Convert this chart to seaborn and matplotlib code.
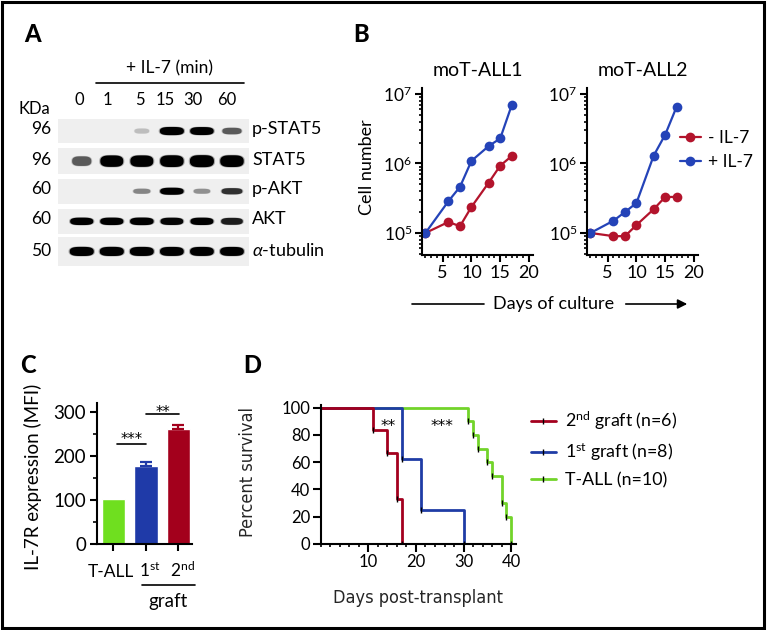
import os
import numpy as np
import pandas as pd
import matplotlib
matplotlib.use('Agg')
import matplotlib.pyplot as plt
import seaborn as sns
from matplotlib.lines import Line2D
from matplotlib.patches import Rectangle, FancyArrowPatch
from matplotlib.path import Path
from matplotlib.transforms import blended_transform_factory
from matplotlib.ticker import MultipleLocator, LogLocator, NullFormatter, FixedLocator
from matplotlib import font_manager as fm
from matplotlib.font_manager import FontProperties

# ---------------- data ----------------
# Panel A: western blot (relative band intensity, 0..1)
lanes = ['0', '1', '5', '15', '30', '60']
blot_rows = ['p-STAT5', 'STAT5', 'p-AKT', 'AKT', r'$\alpha$-tubulin']
kda = ['96', '96', '60', '60', '50']
pstat5 = [0.0, 0.0, 0.12, 1.0, 0.95, 0.55]
stat5 = [0.55, 0.9, 0.9, 0.95, 1.0, 0.95]
pakt = [0.0, 0.0, 0.35, 0.95, 0.3, 0.7]
akt = [0.92, 0.92, 0.95, 0.88, 0.9, 0.78]
tubulin = [1.0, 1.0, 0.98, 0.97, 0.97, 0.97]

# Panel B: cell number vs days of culture
days = [2, 6, 8, 10, 13, 15, 17]
all1_minus = [1.0e5, 1.44e5, 1.25e5, 2.37e5, 5.3e5, 9.3e5, 1.28e6]
all1_plus = [1.0e5, 2.87e5, 4.6e5, 1.09e6, 1.78e6, 2.29e6, 6.9e6]
all2_minus = [1.0e5, 0.9e5, 0.9e5, 1.3e5, 2.2e5, 3.3e5, 3.3e5]
all2_plus = [1.0e5, 1.5e5, 2.0e5, 2.7e5, 1.3e6, 2.6e6, 6.6e6]
conditions = ['- IL-7', '+ IL-7']

# Panel C: IL-7R expression
c_groups = ['T-ALL', '1st', '2nd']
c_labels = ['T-ALL', r'1$^{\rm st}$', r'2$^{\rm nd}$']
c_mfi = [103, 178, 262]
c_sem = [0, 9, 9]

# Panel D: survival
red_days = [0, 11, 14, 16, 17]
red_surv = [100, 83.3, 66.7, 33.3, 0]
blue_days = [0, 17, 21, 30]
blue_surv = [100, 62.5, 25, 0]
green_days = [0, 31, 32, 33, 35, 36, 38, 39, 40]
green_surv = [100, 90, 80, 70, 60, 50, 30, 20, 0]
d_labels = [r'2$^{\rm nd}$ graft (n=6)', r'1$^{\rm st}$ graft (n=8)', 'T-ALL (n=10)']

# ---------------- style ----------------
sns.set_style('ticks')
plt.rcParams['font.family'] = ['Lato', 'DejaVu Sans']
plt.rcParams['mathtext.fontset'] = 'custom'
plt.rcParams['mathtext.rm'] = 'Lato'
plt.rcParams['mathtext.it'] = 'Lato:italic'
plt.rcParams['mathtext.bf'] = 'Lato:bold'
plt.rcParams['axes.linewidth'] = 1.5
plt.rcParams['xtick.major.width'] = 1.5
plt.rcParams['ytick.major.width'] = 1.5
plt.rcParams['xtick.minor.width'] = 1.2
plt.rcParams['ytick.minor.width'] = 1.2
plt.rcParams['xtick.color'] = 'black'
plt.rcParams['ytick.color'] = 'black'
plt.rcParams['axes.edgecolor'] = 'black'
plt.rcParams['text.color'] = 'black'

# condensed font for panel D axis labels
cond_fp = None
for f in fm.fontManager.ttflist:
    b = os.path.basename(f.fname).lower()
    if b in ('liberationsansnarrow-regular.ttf', 'dejavusanscondensed.ttf'):
        cond_fp = FontProperties(fname=f.fname)
        break

W, H = 767, 630
fig = plt.figure(figsize=(W / 100, H / 100), dpi=100)


def rect(l, t, r, b):
    return [l / W, 1 - b / H, (r - l) / W, (b - t) / H]


def fx(x):
    return x / W


def fy(y):
    return 1 - y / H


RED_B, BLUE_B = '#b3142c', '#2443b8'
C_COLORS = ['#6fdf1f', '#1f3aa8', '#a3001c']
D_RED, D_BLUE, D_GREEN = '#a3001e', '#1f3ca6', '#72d42a'
STAR_FONT = ['DejaVu Sans']

# ---------------- Panel A ----------------
axA = fig.add_axes(rect(58, 116, 250, 268))
blot = [pstat5, stat5, pakt, akt, tubulin]
band_h = [0.34, 0.50, 0.30, 0.32, 0.38]
axA.barh(range(5), [6.35] * 5, left=-0.78, height=[0.82, 0.85, 0.82, 0.82, 0.95],
         color='#efefef', edgecolor='none')
cmap = plt.get_cmap('Greys')
t = np.linspace(0, 2 * np.pi, 80)
for r, vals in enumerate(blot):
    sx = np.sign(np.cos(t)) * np.abs(np.cos(t)) ** 0.6
    sy = np.sign(np.sin(t)) * np.abs(np.sin(t)) ** 0.8 * band_h[r]
    mk = Path(np.column_stack([sx, sy]), closed=True)
    xs = [i for i, v in enumerate(vals) if v > 0]
    vs = np.array([v for v in vals if v > 0])
    sizes = 300 * (0.55 + 0.45 * vs) ** 2
    axA.scatter(xs, [r] * len(xs), s=sizes * 1.2, marker=mk, c=vs, cmap=cmap,
                vmin=-0.5, vmax=1.0, alpha=0.3, linewidths=0)
    axA.scatter(xs, [r] * len(xs), s=sizes, marker=mk, c=vs, cmap=cmap,
                vmin=-0.35, vmax=0.9, linewidths=0)
axA.set_xlim(-0.79, 5.6)
axA.set_ylim(4.55, -0.5)
axA.axis('off')

fig.text(fx(33), fy(34), 'A', fontsize=17, fontweight='black', ha='center', va='center')
fig.text(fx(170), fy(68), '+ IL-7 (min)', fontsize=12.5, ha='center', va='center')
fig.add_artist(Line2D([fx(96), fx(244)], [fy(83), fy(83)], color='black', lw=1.2))
fig.text(fx(34), fy(109), 'KDa', fontsize=12, ha='center', va='center')
lane_px = [79, 107, 140, 165, 193, 227]
for lab, x in zip(lanes, lane_px):
    fig.text(fx(x), fy(100), lab, fontsize=12, ha='center', va='center')
row_px = [129, 160, 189, 219, 251]
for lab, k, y in zip(blot_rows, kda, row_px):
    fig.text(fx(51), fy(y), k, fontsize=12.5, ha='right', va='center')
    fig.text(fx(252), fy(y), lab, fontsize=13, ha='left', va='center')

# ---------------- Panel B ----------------
fig.text(fx(361), fy(34), 'B', fontsize=17, fontweight='black', ha='center', va='center')
pal = {'- IL-7': RED_B, '+ IL-7': BLUE_B}
for i, (mn, pl, title, l, r) in enumerate([(all1_minus, all1_plus, 'moT-ALL1', 422, 533),
                                           (all2_minus, all2_plus, 'moT-ALL2', 587, 698)]):
    ax = fig.add_axes(rect(l, 88, r, 255))
    ax.set_yscale('log')
    df = pd.DataFrame({'day': days * 2, 'cells': mn + pl,
                       'cond': [conditions[0]] * len(days) + [conditions[1]] * len(days)})
    sns.lineplot(data=df, x='day', y='cells', hue='cond', palette=pal, marker='o',
                 markersize=7, markeredgewidth=0, linewidth=1.6, estimator=None,
                 legend=False, ax=ax)
    ax.set_xlim(1.4, 20.7)
    ax.set_ylim(10 ** 4.683, 10 ** 7.086)
    ax.xaxis.set_major_locator(FixedLocator([5, 10, 15, 20]))
    ax.xaxis.set_minor_locator(MultipleLocator(1))
    ax.yaxis.set_major_locator(FixedLocator([1e5, 1e6, 1e7]))
    ax.set_yticklabels([r'10$^5$', r'10$^6$', r'10$^7$'])
    ax.yaxis.set_minor_locator(LogLocator(base=10, subs=np.arange(2, 10)))
    ax.yaxis.set_minor_formatter(NullFormatter())
    ax.tick_params(axis='both', which='major', length=5, labelsize=13, pad=2)
    ax.tick_params(axis='y', which='major', labelsize=12.5)
    ax.tick_params(axis='both', which='minor', length=2.5)
    ax.set_xlabel('')
    ax.set_ylabel('')
    sns.despine(ax=ax)
    ax.set_title(title, fontsize=14, pad=9)
    if i == 1:
        handles = [Line2D([], [], color=pal[c], marker='o', ms=7, mew=0, lw=1.6) for c in conditions]
        ax.legend(handles, conditions, loc='center left', bbox_to_anchor=(fx(680), fy(150)),
                  bbox_transform=fig.transFigure, frameon=False, fontsize=12.5,
                  handlelength=1.2, handletextpad=0.4, labelspacing=0.45,
                  borderaxespad=0, borderpad=0)

fig.text(fx(367), fy(167), 'Cell number', fontsize=13, rotation=90, ha='center', va='center')
fig.add_artist(Line2D([fx(412), fx(484)], [fy(304), fy(304)], color='black', lw=1.2))
fig.text(fx(554), fy(304), 'Days of culture', fontsize=13, ha='center', va='center')
fig.add_artist(FancyArrowPatch((fx(623), fy(304)), (fx(690), fy(304)), transform=fig.transFigure,
                               arrowstyle='-|>', mutation_scale=14, lw=1.2, color='black'))

# ---------------- Panel C ----------------
fig.text(fx(28), fy(365), 'C', fontsize=17, fontweight='black', ha='center', va='center')
axC = fig.add_axes(rect(97, 403, 192, 544))
sns.barplot(x=c_groups, y=c_mfi, hue=c_groups, palette=C_COLORS, width=0.72,
            saturation=1, legend=False, ax=axC)
for i in range(3):
    if c_sem[i] > 0:
        axC.errorbar([i], [c_mfi[i]], yerr=[[0], [c_sem[i]]], fmt='none', ecolor=C_COLORS[i],
                     elinewidth=1.6, capsize=4.5, capthick=1.6)
axC.set_xlim(-0.5, 2.42)
axC.set_ylim(0, 320)
axC.yaxis.set_major_locator(FixedLocator([0, 100, 200, 300]))
axC.yaxis.set_minor_locator(MultipleLocator(50))
axC.set_xticks([0, 1, 2])
axC.set_xticklabels([])
axC.tick_params(axis='both', which='major', length=5, labelsize=13.5, pad=3)
axC.tick_params(axis='y', which='minor', length=3)
axC.set_xlabel('')
axC.set_ylabel('')
sns.despine(ax=axC)
tr = blended_transform_factory(axC.transData, fig.transFigure)
label_shift = [-0.06, 0.12, 0.12]
for i, lab in enumerate(c_labels):
    axC.text(i + label_shift[i], fy(577), lab, transform=tr, fontsize=12.5,
             ha='center', va='baseline')
axC.plot([0.1, 1.0], [227, 227], color='black', lw=1.2)
axC.text(0.55, 227, '***', fontsize=10.5, family=STAR_FONT, ha='center', va='baseline')
axC.plot([1.02, 2.02], [295, 295], color='black', lw=1.2)
axC.text(1.52, 289, '**', fontsize=10.5, family=STAR_FONT, ha='center', va='baseline')
fig.text(fx(33), fy(477), 'IL-7R expression (MFI)', fontsize=13.5, rotation=90,
         ha='center', va='center')
fig.add_artist(Line2D([fx(142), fx(195)], [fy(585), fy(585)], color='black', lw=1.2))
fig.text(fx(168), fy(601), 'graft', fontsize=13.5, ha='center', va='center')

# ---------------- Panel D ----------------
fig.text(fx(252), fy(365), 'D', fontsize=17, fontweight='black', ha='center', va='center')
axD = fig.add_axes(rect(320.6, 405, 516, 544))
for dd, ss, col in [(green_days, green_surv, D_GREEN), (blue_days, blue_surv, D_BLUE),
                    (red_days, red_surv, D_RED)]:
    sns.lineplot(x=dd, y=ss, color=col, linewidth=2, drawstyle='steps-post',
                 estimator=None, ax=axD)
    axD.plot(dd[1:], ss[1:], ls='none', marker='|', color='black', ms=4, mew=1)
axD.set_xlim(0, 41)
axD.set_ylim(0, 102)
axD.xaxis.set_major_locator(FixedLocator([10, 20, 30, 40]))
axD.xaxis.set_minor_locator(MultipleLocator(2))
axD.yaxis.set_major_locator(MultipleLocator(20))
axD.tick_params(axis='both', which='major', length=5.5, labelsize=12, pad=2)
axD.tick_params(axis='both', which='minor', length=2.5)
sns.despine(ax=axD)
axD.text(14.1, 83, '**', fontsize=11, family=STAR_FONT, ha='center', va='baseline')
axD.text(25.4, 83, '***', fontsize=11, family=STAR_FONT, ha='center', va='baseline')
if cond_fp is not None:
    lab_kw = dict(fontproperties=cond_fp, fontsize=13)
else:
    lab_kw = dict(fontsize=11)
axD.set_xlabel('Days post-transplant', **lab_kw)
axD.set_ylabel('Percent survival', **lab_kw)
axD.xaxis.set_label_coords(fx(418), fy(589), transform=fig.transFigure)
axD.yaxis.set_label_coords(fx(257), fy(472), transform=fig.transFigure)
d_handles = [Line2D([], [], color=c, lw=2, marker='|', mec='black', ms=4, mew=1)
             for c in (D_RED, D_BLUE, D_GREEN)]
axD.legend(d_handles, d_labels, loc='center left', bbox_to_anchor=(fx(531), fy(449)),
           bbox_transform=fig.transFigure, frameon=False, fontsize=12.8,
           handlelength=1.4, handletextpad=0.5, labelspacing=0.5, borderaxespad=0,
           borderpad=0)

# ---------------- border ----------------
fig.add_artist(Rectangle((1.5 / W, 2.5 / H), 762 / W, 626 / H, transform=fig.transFigure,
                         fill=False, edgecolor='black', lw=2.2))

fig.savefig('out.png', dpi=100)
